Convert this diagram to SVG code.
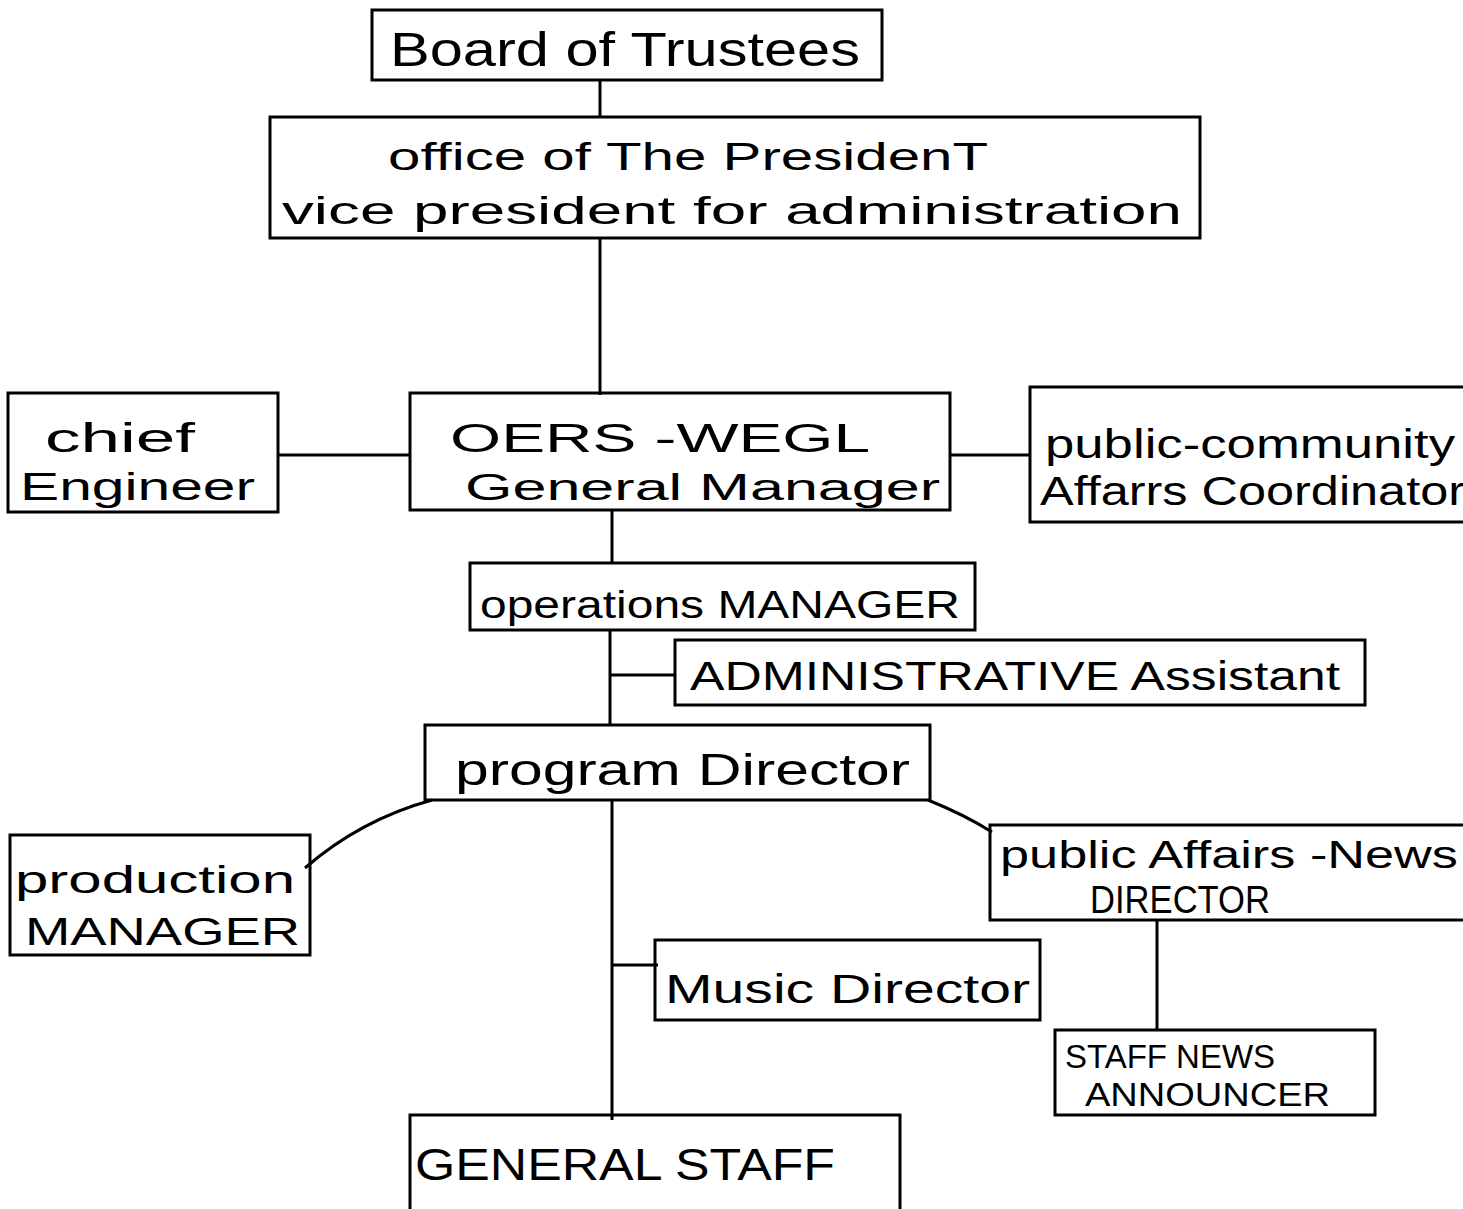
<svg xmlns="http://www.w3.org/2000/svg" width="1463" height="1209" viewBox="0 0 1463 1209">
<style>
.box{fill:none;stroke:#000;stroke-width:3}
.ln{fill:none;stroke:#000;stroke-width:3}
.t{font-family:"Liberation Sans",Arial,sans-serif;fill:#000}
</style>
<rect width="1463" height="1209" fill="#fff"/>
<g id="connectors">
<path class="ln" d="M600 80 V117"/>
<path class="ln" d="M600 238 V395"/>
<path class="ln" d="M278 455 H410"/>
<path class="ln" d="M950 455 H1030"/>
<path class="ln" d="M612 510 V563"/>
<path class="ln" d="M610 630 V725"/>
<path class="ln" d="M610 675 H675"/>
<path class="ln" d="M432 800 Q360 820 305 868"/>
<path class="ln" d="M612 800 V1120"/>
<path class="ln" d="M612 965 H658"/>
<path class="ln" d="M928 800 Q965 815 992 832"/>
<path class="ln" d="M1157 920 V1030"/>
</g>
<g id="board"><rect class="box" x="372" y="10" width="510" height="70"/><text class="t" x="390" y="66" font-size="48" textLength="470" lengthAdjust="spacingAndGlyphs">Board of Trustees</text></g>
<g id="president"><rect class="box" x="270" y="117" width="930" height="121"/><text class="t" x="388" y="170" font-size="38" textLength="600" lengthAdjust="spacingAndGlyphs">office of The PresidenT</text><text class="t" x="282" y="224" font-size="38" textLength="900" lengthAdjust="spacingAndGlyphs">vice president for administration</text></g>
<g id="chief-engineer"><rect class="box" x="8" y="393" width="270" height="119"/><text class="t" x="45" y="452" font-size="40" textLength="150" lengthAdjust="spacingAndGlyphs">chief</text><text class="t" x="20" y="500" font-size="38" textLength="235" lengthAdjust="spacingAndGlyphs">Engineer</text></g>
<g id="general-manager"><rect class="box" x="410" y="393" width="540" height="117"/><text class="t" x="450" y="452" font-size="40" textLength="420" lengthAdjust="spacingAndGlyphs">OERS -WEGL</text><text class="t" x="465" y="500" font-size="36" textLength="475" lengthAdjust="spacingAndGlyphs">General Manager</text></g>
<g id="public-community"><rect class="box" x="1030" y="387" width="440" height="135"/><text class="t" x="1045" y="458" font-size="40" textLength="410" lengthAdjust="spacingAndGlyphs">public-community</text><text class="t" x="1040" y="505" font-size="40" textLength="425" lengthAdjust="spacingAndGlyphs">Affarrs Coordinator</text></g>
<g id="operations-manager"><rect class="box" x="470" y="563" width="505" height="67"/><text class="t" x="480" y="618" font-size="38" textLength="480" lengthAdjust="spacingAndGlyphs">operations MANAGER</text></g>
<g id="admin-assistant"><rect class="box" x="675" y="640" width="690" height="65"/><text class="t" x="690" y="690" font-size="40" textLength="650" lengthAdjust="spacingAndGlyphs">ADMINISTRATIVE Assistant</text></g>
<g id="program-director"><rect class="box" x="425" y="725" width="505" height="75"/><text class="t" x="455" y="785" font-size="44" textLength="455" lengthAdjust="spacingAndGlyphs">program Director</text></g>
<g id="production-manager"><rect class="box" x="10" y="835" width="300" height="120"/><text class="t" x="15" y="893" font-size="38" textLength="280" lengthAdjust="spacingAndGlyphs">production</text><text class="t" x="25" y="945" font-size="38" textLength="275" lengthAdjust="spacingAndGlyphs">MANAGER</text></g>
<g id="news-director"><rect class="box" x="990" y="825" width="480" height="95"/><text class="t" x="1000" y="868" font-size="38" textLength="458" lengthAdjust="spacingAndGlyphs">public Affairs -News</text><text class="t" x="1090" y="913" font-size="38" textLength="180" lengthAdjust="spacingAndGlyphs">DIRECTOR</text></g>
<g id="music-director"><rect class="box" x="655" y="940" width="385" height="80"/><text class="t" x="665" y="1003" font-size="40" textLength="365" lengthAdjust="spacingAndGlyphs">Music Director</text></g>
<g id="staff-news-announcer"><rect class="box" x="1055" y="1030" width="320" height="85"/><text class="t" x="1065" y="1068" font-size="34" textLength="210" lengthAdjust="spacingAndGlyphs">STAFF NEWS</text><text class="t" x="1085" y="1106" font-size="34" textLength="245" lengthAdjust="spacingAndGlyphs">ANNOUNCER</text></g>
<g id="general-staff"><rect class="box" x="410" y="1115" width="490" height="110"/><text class="t" x="415" y="1180" font-size="44" textLength="420" lengthAdjust="spacingAndGlyphs">GENERAL STAFF</text></g>
</svg>
